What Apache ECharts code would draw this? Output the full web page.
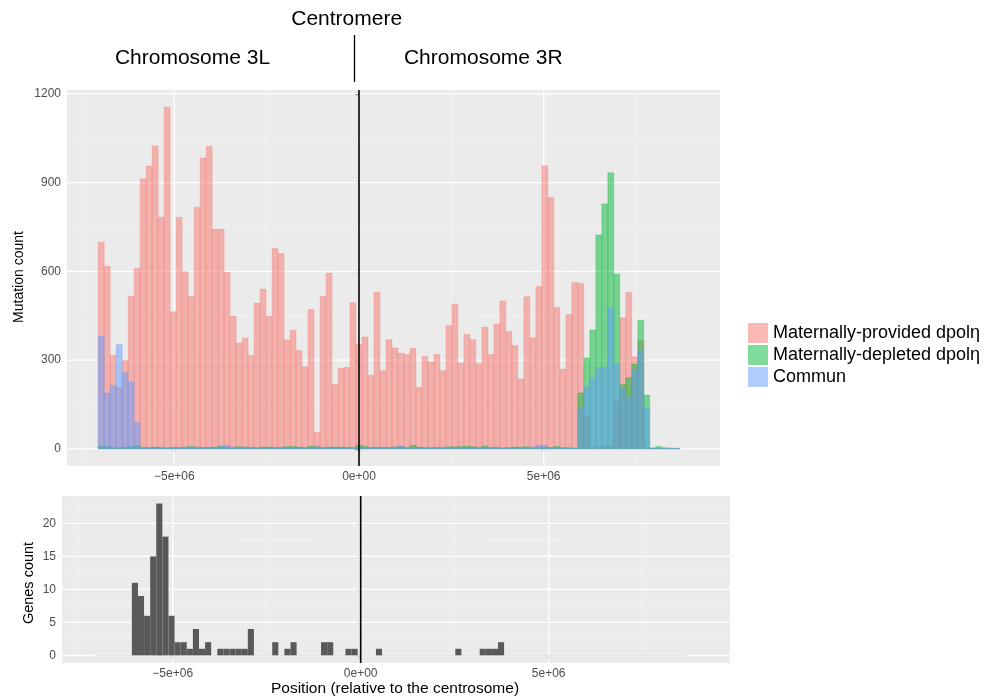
<!DOCTYPE html>
<html>
<head>
<meta charset="utf-8">
<script src="https://cdn.jsdelivr.net/npm/echarts@6/dist/echarts.min.js"></script>
<style>
html,body{margin:0;padding:0;background:#fff;}
#chart{width:991px;height:699px;}
</style>
</head>
<body>
<div id="chart"></div>
<script>
// ---------- data ----------
const binWidth = 0.1623e6;      // histogram bin width (bp)
const firstBin = -43;           // index of first bin (bins centred on k*binWidth)

const seriesNames = ['Maternally-provided dpolη', 'Maternally-depleted dpolη', 'Commun'];

const providedCounts = [
  698,617,316,207,299,516,610,913,956,1024,783,1155,463,782,599,514,817,983,1022,742,
  742,596,448,357,374,316,492,540,448,677,660,368,401,332,278,471,56,516,594,218,
  272,275,494,
  352,
  378,249,529,264,369,341,323,319,340,208,312,293,319,264,417,489,290,387,369,288,
  411,319,422,500,397,349,236,514,375,549,957,850,478,269,454,
  562,559,111,5,5,10,10,160,443,529,311,366,5,3,2,4,2,1
];
const depletedCounts = [
  8,9,5,3,5,7,10,
  5,4,6,4,3,5,4,6,8,5,4,5,6,9,5,4,7,6,5,3,5,6,4,5,7,8,6,5,9,7,4,6,5,6,5,4,
  12,
  8,5,6,4,5,6,7,5,12,6,4,3,5,4,7,6,8,9,7,5,9,4,5,3,4,6,5,7,4,5,6,5,8,4,3,
  2,189,307,402,723,828,933,591,217,241,287,434,182,2,8,1,1,1
];
const communCounts = [
  381,188,214,352,257,226,89,
  4,3,5,6,4,3,3,4,6,5,4,5,4,8,12,5,4,5,3,4,6,5,4,3,5,4,6,4,5,7,3,4,6,5,4,6,
  5,
  6,4,3,5,4,5,10,4,5,3,4,5,4,3,5,6,4,4,5,3,4,5,6,3,4,5,6,4,6,12,13,4,5,3,4,
  2,137,210,238,275,276,478,287,203,174,267,332,138,3,1,3,3,2
];
const genesCounts = [
  0,0,0,0,0,0,
  11,9,6,15,23,18,6,2,2,1,4,1,2,0,
  1,1,1,1,1,4,0,0,0,2,0,1,2,0,0,0,0,2,2,0,0,1,1,
  0,0,0,1,0,0,0,0,0,0,0,0,0,0,0,0,1,0,0,0,1,1,1,2,
  0,0,0,0,0,0,0,0,0,0,0,0,0,0,0,0,0,0,0,0,0,0,0,0,0,0,0,0,0,0
];

const xTickValues = [-5e6, 0, 5e6];
const xTickLabels = ['\u22125e+06', '0e+00', '5e+06'];
const xMinorValues = [-7.5e6, -2.5e6, 2.5e6, 7.5e6];
const mutTickValues = [0, 300, 600, 900, 1200];
const mutMinorValues = [150, 450, 750, 1050];
const genesTickValues = [0, 5, 10, 15, 20];
const genesMinorValues = [2.5, 7.5, 12.5, 17.5, 22.5];
const centromerePos = [0];

// ---------- helpers ----------
function binRows(counts) {
  return counts.map((c, i) => {
    const k = firstBin + i;
    return [(k - 0.5) * binWidth, (k + 0.5) * binWidth, c];
  });
}
const FONT = '"Liberation Sans", Arial, sans-serif';

function histRender(fill, stroke, zeroLine) {
  return function (params, api) {
    const x0 = api.value(0), x1 = api.value(1), v = api.value(2);
    const a = api.coord([x0, v]);
    const b = api.coord([x1, 0]);
    if (v === 0) {
      if (!zeroLine) return null;
      return { type: 'line', shape: { x1: a[0], y1: b[1], x2: b[0], y2: b[1] },
               style: { stroke: zeroLine, lineWidth: 1 } };
    }
    return { type: 'rect',
      shape: { x: a[0], y: a[1], width: b[0] - a[0], height: b[1] - a[1] },
      style: { fill: fill, stroke: stroke, lineWidth: stroke ? 0.6 : 0 } };
  };
}
function hLines(values, color, width, gi) {
  return { type: 'custom', coordinateSystem: 'cartesian2d', xAxisIndex: gi, yAxisIndex: gi,
    silent: true, z: 1, encode: { x: 0, y: 1 },
    data: values.map(v => [0, v]),
    renderItem: function (params, api) {
      const p = api.coord([0, api.value(1)]);
      const cs = params.coordSys;
      return { type: 'line', shape: { x1: cs.x, y1: p[1], x2: cs.x + cs.width, y2: p[1] },
               style: { stroke: color, lineWidth: width } };
    } };
}
function vLines(values, color, width, gi, z) {
  return { type: 'custom', coordinateSystem: 'cartesian2d', xAxisIndex: gi, yAxisIndex: gi,
    silent: true, z: z || 1, encode: { x: 0, y: 1 },
    data: values.map(v => [v, 0]),
    renderItem: function (params, api) {
      const p = api.coord([api.value(0), 0]);
      const cs = params.coordSys;
      return { type: 'line', shape: { x1: p[0], y1: cs.y, x2: p[0], y2: cs.y + cs.height },
               style: { stroke: color, lineWidth: width } };
    } };
}

const pinkFill = 'rgba(248,118,109,0.5)';
const greenFill = 'rgba(0,186,56,0.5)';
const blueFill = 'rgba(97,156,255,0.5)';

function xAxisCfg(gi, min, max) {
  return {
    type: 'value', gridIndex: gi, min: min, max: max,
    splitLine: { show: false }, axisLine: { show: false },
    axisTick: { show: true, length: 4, customValues: xTickValues, lineStyle: { color: '#333', width: 1.2 } },
    axisLabel: { customValues: xTickValues, margin: 5, fontSize: 12, color: '#4D4D4D', fontFamily: FONT,
      formatter: v => { const i = xTickValues.indexOf(v); return i >= 0 ? xTickLabels[i] : ''; } }
  };
}
function yAxisCfg(gi, min, max, ticks) {
  return {
    type: 'value', gridIndex: gi, min: min, max: max,
    splitLine: { show: false }, axisLine: { show: false },
    axisTick: { show: true, length: 4, customValues: ticks, lineStyle: { color: '#333', width: 1.2 } },
    axisLabel: { customValues: ticks, margin: 6, fontSize: 12, color: '#4D4D4D', fontFamily: FONT,
      formatter: v => String(v) }
  };
}

const option = {
  animation: false,
  backgroundColor: '#ffffff',
  grid: [
    { left: 67, top: 90, width: 653, height: 376, show: true, backgroundColor: '#EBEBEB', borderWidth: 0 },
    { left: 62, top: 496, width: 668, height: 167, show: true, backgroundColor: '#EBEBEB', borderWidth: 0 }
  ],
  xAxis: [ xAxisCfg(0, -7.905e6, 9.773e6), xAxisCfg(1, -7.944e6, 9.822e6) ],
  yAxis: [ yAxisCfg(0, -58, 1213, mutTickValues), yAxisCfg(1, -1.15, 24.15, genesTickValues) ],
  legend: {
    orient: 'vertical', left: 748, top: 323, padding: 0, itemWidth: 20, itemHeight: 20, itemGap: 2,
    icon: 'rect', selectedMode: false, data: seriesNames,
    textStyle: { fontSize: 18, color: '#000', fontFamily: FONT }
  },
  series: [
    hLines(mutMinorValues, '#F5F5F5', 0.7, 0),
    hLines(mutTickValues, '#FFFFFF', 1.3, 0),
    vLines(xMinorValues, '#F5F5F5', 0.7, 0),
    vLines(xTickValues, '#FFFFFF', 1.3, 0),
    hLines(genesMinorValues, '#F5F5F5', 0.7, 1),
    hLines(genesTickValues, '#FFFFFF', 1.3, 1),
    vLines(xMinorValues, '#F5F5F5', 0.7, 1),
    vLines(xTickValues, '#FFFFFF', 1.3, 1),
    { name: seriesNames[0], type: 'custom', coordinateSystem: 'cartesian2d', xAxisIndex: 0, yAxisIndex: 0,
      z: 2, encode: { x: [0, 1], y: 2 }, itemStyle: { color: pinkFill },
      data: binRows(providedCounts), renderItem: histRender(pinkFill, 'rgba(248,118,109,0.45)') },
    { name: seriesNames[1], type: 'custom', coordinateSystem: 'cartesian2d', xAxisIndex: 0, yAxisIndex: 0,
      z: 3, encode: { x: [0, 1], y: 2 }, itemStyle: { color: greenFill },
      data: binRows(depletedCounts), renderItem: histRender(greenFill, 'rgba(0,186,56,0.45)') },
    { name: seriesNames[2], type: 'custom', coordinateSystem: 'cartesian2d', xAxisIndex: 0, yAxisIndex: 0,
      z: 4, encode: { x: [0, 1], y: 2 }, itemStyle: { color: blueFill },
      data: binRows(communCounts), renderItem: histRender(blueFill, 'rgba(97,156,255,0.45)') },
    { name: 'Genes', type: 'custom', coordinateSystem: 'cartesian2d', xAxisIndex: 1, yAxisIndex: 1,
      z: 2, encode: { x: [0, 1], y: 2 }, itemStyle: { color: '#595959' },
      data: binRows(genesCounts), renderItem: histRender('#595959', null, 'rgba(89,89,89,0.18)') },
    vLines(centromerePos, '#000000', 1.6, 0, 6),
    vLines(centromerePos, '#000000', 1.6, 1, 6)
  ],
  graphic: [
    { type: 'text', x: 346.7, y: 19.5, style: { text: 'Centromere', fontSize: 21, fontFamily: FONT, fill: '#000',
      textAlign: 'center', textVerticalAlign: 'middle', align: 'center', verticalAlign: 'middle' } },
    { type: 'text', x: 192.5, y: 58.5, style: { text: 'Chromosome 3L', fontSize: 21, fontFamily: FONT, fill: '#000',
      textAlign: 'center', textVerticalAlign: 'middle', align: 'center', verticalAlign: 'middle' } },
    { type: 'text', x: 483.3, y: 58.5, style: { text: 'Chromosome 3R', fontSize: 21, fontFamily: FONT, fill: '#000',
      textAlign: 'center', textVerticalAlign: 'middle', align: 'center', verticalAlign: 'middle' } },
    { type: 'line', shape: { x1: 354.5, y1: 35, x2: 354.5, y2: 82 }, style: { stroke: '#000', lineWidth: 1.3 } },
    { type: 'text', x: 19, y: 277, rotation: Math.PI / 2, style: { text: 'Mutation count', fontSize: 14, fontFamily: FONT, fill: '#000',
      textAlign: 'center', textVerticalAlign: 'middle', align: 'center', verticalAlign: 'middle' } },
    { type: 'text', x: 29, y: 583, rotation: Math.PI / 2, style: { text: 'Genes count', fontSize: 14.5, fontFamily: FONT, fill: '#000',
      textAlign: 'center', textVerticalAlign: 'middle', align: 'center', verticalAlign: 'middle' } },
    { type: 'text', x: 395, y: 689, style: { text: 'Position (relative to the centrosome)', fontSize: 15.5, fontFamily: FONT, fill: '#000',
      textAlign: 'center', textVerticalAlign: 'middle', align: 'center', verticalAlign: 'middle' } }
  ]
};

const chart = echarts.init(document.getElementById('chart'), null, { renderer: 'canvas' });
chart.setOption(option);
</script>
</body>
</html>
